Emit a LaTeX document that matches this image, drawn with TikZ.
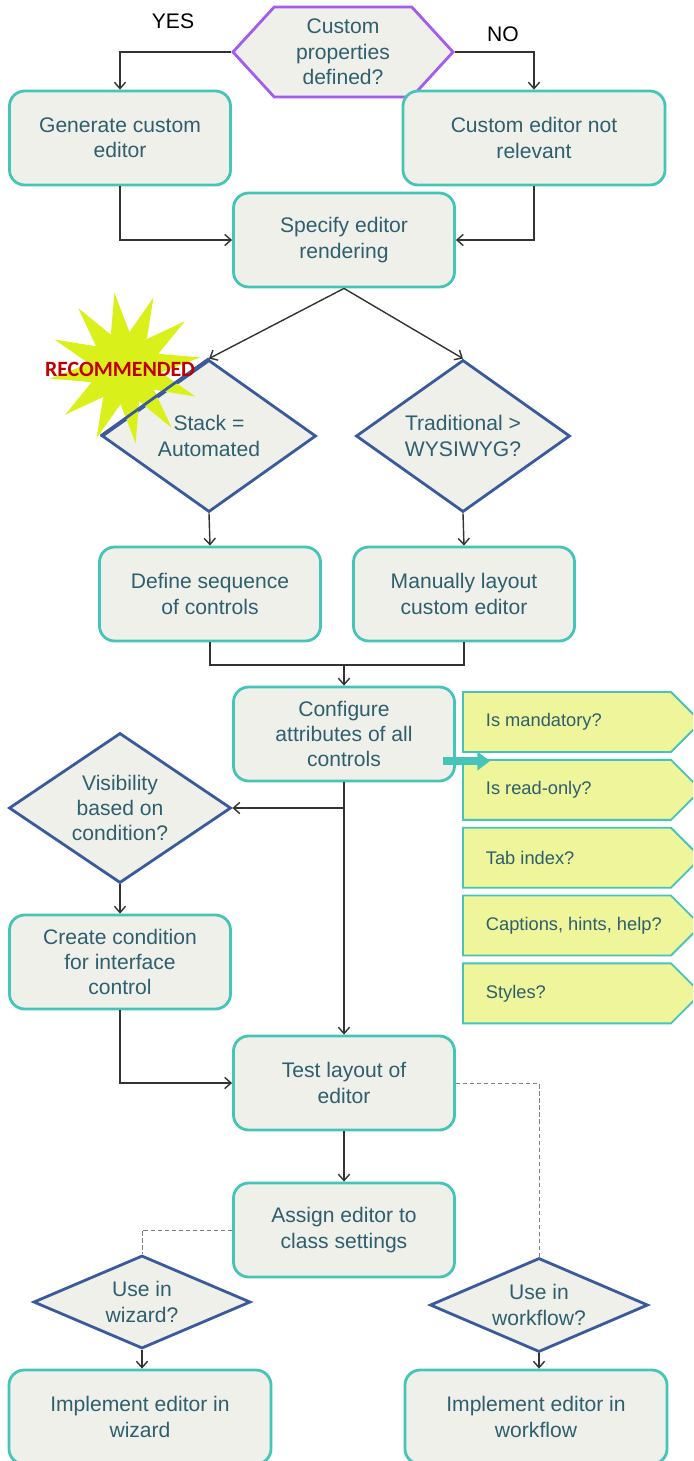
\documentclass[tikz,border=0pt]{standalone}
\usepackage{fontspec}
\setmainfont{Liberation Sans}
\newfontfamily\burstfont{Carlito}
\usepackage{tikz}
\usetikzlibrary{arrows.meta}
\usetikzlibrary{shapes.geometric, shapes.symbols}
\usetikzlibrary{positioning}
\definecolor{fc-text}{HTML}{2E5F6E}
\definecolor{fc-fill}{HTML}{F0F0EA}
\definecolor{fc-teal}{HTML}{45C4B8}
\definecolor{fc-blue}{HTML}{3B5A9C}
\definecolor{fc-purple}{HTML}{A45CF0}
\definecolor{fc-tag}{HTML}{EEF59A}
\definecolor{fc-burst}{HTML}{D9F01A}
\definecolor{fc-red}{HTML}{C00000}
\definecolor{fc-line}{HTML}{333333}
\definecolor{fc-grey}{HTML}{808080}
\tikzset{decborder/.style={draw=fc-blue, line width=2pt, line join=miter}}
\newcommand{\tagline}[1]{\makebox[4.75cm][l]{\hspace{0.35cm}#1}}

\begin{document}
\begin{tikzpicture}[
    x=0.025cm, y=-0.025cm,
    font=\fontsize{15}{18}\selectfont,
    >={Straight Barb[length=4.5pt,width=8pt]}
  ]

  % Styles for the flow chart
  \tikzset{
    box/.style={draw=fc-teal, line width=2pt, fill=fc-fill, rounded corners=0.38cm, minimum width=5.525cm, minimum height=2.35cm, text=fc-text, align=center},
    wide/.style={box, minimum width=6.55cm},
    decision/.style={diamond, decborder, fill=fc-fill, text=fc-text, align=center, inner sep=0pt},
    question/.style={signal, signal to=west and east, signal pointer angle=95, draw=fc-purple, line width=2pt, fill=fc-fill, text=fc-text, align=center, minimum width=5.5cm, minimum height=2.25cm, inner sep=0pt},
    tag/.style={signal, signal to=east, signal pointer angle=90, draw=fc-teal, line width=1.3pt, fill=fc-tag, text=fc-text, font=\fontsize{13}{15}\selectfont, inner xsep=0.225cm, minimum height=1.5cm},
    link/.style={draw=fc-line, line width=1pt},
    hint/.style={draw=fc-grey, line width=0.7pt, densely dashed},
    push/.style={draw=fc-teal, line width=5pt, -{Triangle[length=9pt,width=13pt]}}
  }

  \clip (0,0) rectangle (693,1461);

  % Top decision
  \node (props) [question] at (343,52) {Custom\\properties\\defined?};
  \node (yes) at (173,21) {YES};
  \node (no)  at (503,34) {NO};
  \node (gen)    [box]  at (120,138) {Generate custom\\editor};
  \node (notrel) [wide] at (534,138) {Custom editor not\\relevant};
  \node (spec)   [box]  at (344,240) {Specify editor\\rendering};

  % Rendering choice
  \node (stack)  [decision, aspect=1.41, minimum width=5.35cm, minimum height=3.8cm] at (209,436) {Stack =\\Automated};
  \node (trad)   [decision, aspect=1.41, minimum width=5.35cm, minimum height=3.8cm] at (463,436) {Traditional >\\WYSIWYG?};
  \node (burst)  [star, star points=12, star point ratio=2.1, minimum size=3.8cm, fill=fc-burst, inner sep=0pt, rotate=8] at (125,368) {};
  \draw[decborder] (stack.west) -- (stack.north);
  \node (reco)   [text=fc-red, font=\burstfont\bfseries\fontsize{15.5}{18}\selectfont] at (120,369) {RECOMMENDED};
  \node (seq)    [box] at (210,594) {Define sequence\\of controls};
  \node (manual) [box] at (464,594) {Manually layout\\custom editor};

  % Attributes
  \node (config) [box] at (344,734) {Configure\\attributes of all\\controls};
  \node (tag1) [tag, anchor=west] at (462,722) {\tagline{Is mandatory?}};
  \node (tag2) [tag, below=0.15cm of tag1.south west, anchor=north west] {\tagline{Is read-only?}};
  \node (tag3) [tag, below=0.15cm of tag2.south west, anchor=north west] {\tagline{Tab index?}};
  \node (tag4) [tag, below=0.15cm of tag3.south west, anchor=north west] {\tagline{Captions, hints, help?}};
  \node (tag5) [tag, below=0.15cm of tag4.south west, anchor=north west] {\tagline{Styles?}};
  \node (vis)  [decision, aspect=1.48, minimum width=5.55cm, minimum height=3.75cm] at (120,808) {Visibility\\based on\\condition?};
  \node (cond) [box] at (120,962) {Create condition\\for interface\\control};
  \node (test) [box] at (344,1083) {Test layout of\\editor};
  \node (assign) [box] at (344,1230) {Assign editor to\\class settings};

  % Where the editor is used
  \node (wiz)  [decision, aspect=2.33, minimum width=5.425cm, minimum height=2.325cm] at (142,1302) {Use in\\wizard?};
  \node (flow) [decision, aspect=2.32, minimum width=5.45cm, minimum height=2.35cm] at (539,1305) {Use in\\workflow?};
  \node (implwiz)  [wide] at (140,1417) {Implement editor in\\wizard};
  \node (implflow) [wide] at (536,1417) {Implement editor in\\workflow};

  % Connectors
  \draw[link, ->] (props.west) -| (gen.north);
  \draw[link, ->] (props.east) -| (notrel.north);
  \draw[link, ->] (gen.south) |- (spec.west);
  \draw[link, ->] (notrel.south) |- (spec.east);
  \draw[link, ->] (spec.south) -- (stack.north);
  \draw[link, ->] (spec.south) -- (trad.north);
  \draw[link, ->] (stack.south) -- (seq.north);
  \draw[link, ->] (trad.south) -- (manual.north);
  \coordinate (merge) at (344,665);
  \draw[link] (seq.south) |- (merge) -| (manual.south);
  \draw[link, ->] (merge) -- (config.north);
  \draw[link, ->] (config.south) -- (test.north);
  \coordinate (split) at (config.south |- vis.east);
  \draw[link, ->] (split) -- (vis.east);
  \draw[link, ->] (vis.south) -- (cond.north);
  \draw[link, ->] (cond.south) |- (test.west);
  \draw[link, ->] (test.south) -- (assign.north);
  \draw[hint] (test.east) -| (flow.north);
  \draw[hint] (assign.west) -| (wiz.north);
  \draw[link, ->] (wiz.south) -- (wiz.south |- implwiz.north);
  \draw[link, ->] (flow.south) -- (flow.south |- implflow.north);

  \coordinate (pointer) at (490,761);
  \draw[push] ([shift={(-13,27)}]config.east) -- (pointer);

\end{tikzpicture}
\end{document}
